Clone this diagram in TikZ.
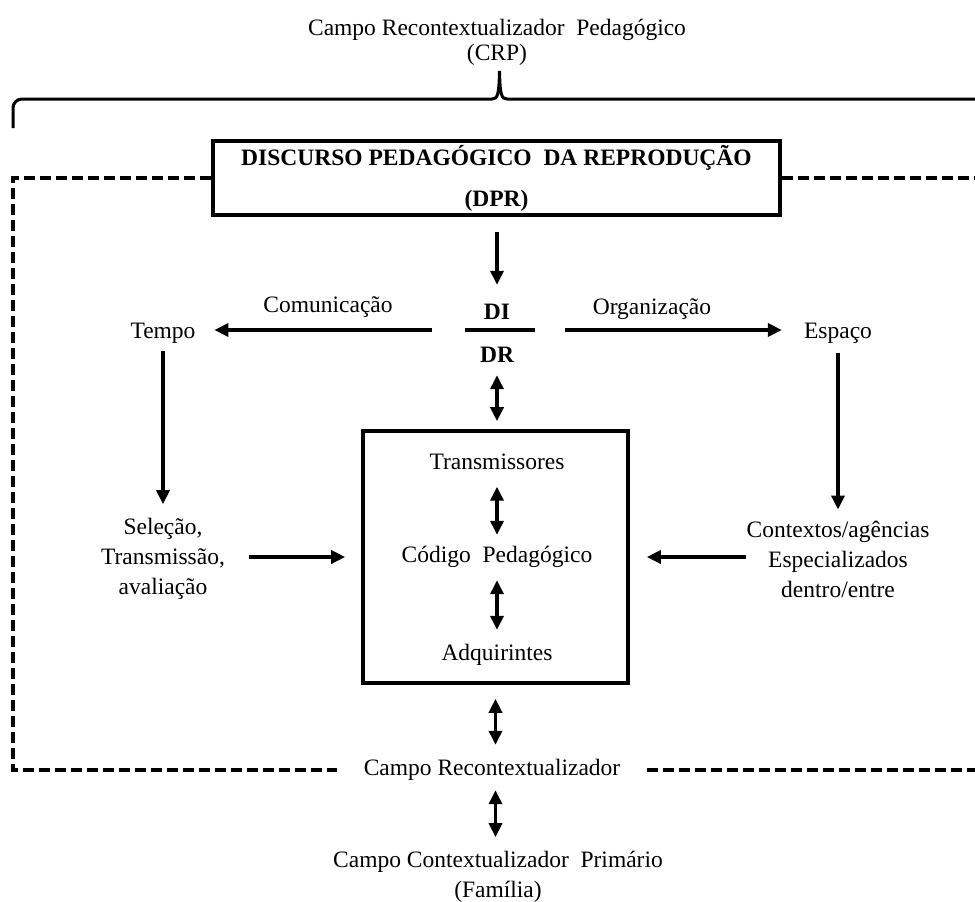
\documentclass[tikz,border=0pt]{standalone}
\usepackage{fontspec}
\setmainfont{Liberation Serif}
\usetikzlibrary{arrows.meta,calc}
\begin{document}
\begin{tikzpicture}[x=1pt,y=-1pt,
  txt/.style={inner sep=0pt, text height=16pt, text depth=5pt, font=\fontsize{23.5}{28}\selectfont},
  mtxt/.style={inner sep=0pt, align=center, font=\fontsize{23.5}{30}\selectfont},
  arr/.style={line width=3.4pt, -{Triangle[length=14pt,width=13pt]}},
  darr/.style={line width=3.4pt, {Triangle[length=14pt,width=13pt]}-{Triangle[length=14pt,width=13pt]}},
  frame/.style={draw, line width=3.6pt, inner sep=0pt},
  dash3/.style={line width=3.4pt, dash pattern=on 11pt off 5pt}]
\useasboundingbox (0,0) rectangle (975,902);
\coordinate (lft) at (13,0);
\coordinate (rgt) at (975,0);

% title and brace
\node[mtxt, font=\fontsize{23.5}{25}\selectfont] (crp) at (497,42.5) {Campo Recontextualizador\ \ Pedagógico\\(CRP)};
\draw[line width=3pt] [rounded corners=9pt] (13,128) -- (13,99) -- (200,99) [sharp corners] -- (492,99)
  .. controls (497.5,99) and (499,95) .. (499.5,71)
  .. controls (500,95) and (501.5,99) .. (507,99) -- (975,99);

% DPR box
\node[frame, minimum width=567pt, minimum height=74pt, align=center,
      font=\bfseries\fontsize{23.5}{41}\selectfont] (dpr) at (496.5,178)
      {DISCURSO PEDAGÓGICO\ \ DA REPRODUÇÃO\\(DPR)};

% DI / DR
\node[txt, font=\bfseries\fontsize{23.5}{28}\selectfont] (di) at (497,314) {DI};
\node[txt, font=\bfseries\fontsize{23.5}{28}\selectfont] (dr) at (497,357) {DR};
\draw[line width=3.4pt] (465,330) -- (535,330);
\coordinate (cl) at (432,330);
\coordinate (cr) at (565,330);

% side nodes
\node[txt] (tempo) at (163,333) {Tempo};
\node[txt] (espaco) at (838,333) {Espaço};
\node[txt] (comun) at (328,307) {Comunicação};
\node[txt] (organ) at (652,309) {Organização};
\node[mtxt] (sel) at (163,559) {Seleção,\\Transmissão,\\avaliação};
\node[mtxt] (ctx) at (838,559) {Contextos/agências\\Especializados\\dentro/entre};

% central box
\node[frame, minimum width=265pt, minimum height=252pt] (cbox) at (495.5,557) {};
\node[txt] (trans) at (497,464) {Transmissores};
\node[txt] (cod) at (497,557) {Código\ \ Pedagógico};
\node[txt] (adq) at (497,655) {Adquirintes};

% bottom
\node[txt, inner xsep=27pt] (crec) at (492,770) {Campo Recontextualizador};
\node[mtxt] (ccp) at (498,877) {Campo Contextualizador\ \ Primário\\(Família)};

% dashed frame
\draw[dash3] (dpr.west) -- (dpr.west -| lft) -- (crec.west -| lft) -- (crec.west);
\draw[dash3] (dpr.east) -- (dpr.east -| rgt);
\draw[dash3] (crec.east) -- (crec.east -| rgt);

% connectors
\draw[arr, shorten <=15pt, shorten >=18.5pt] (dpr.south -| di) -- (di);
\draw[arr, shorten >=18.7pt] (cl) -- (cl -| tempo.east);
\draw[arr, shorten >=22pt] (cr) -- (cr -| espaco.west);
\draw[arr, shorten <=7pt, shorten >=14pt] (tempo) -- (sel);
\draw[arr, shorten <=9pt, shorten >=11pt] (espaco) -- (ctx);
\draw[darr, shorten <=7.5pt, shorten >=8pt] (dr) -- (dr |- cbox.north);
\draw[darr, shorten <=12pt, shorten >=11.5pt] (trans) -- (cod);
\draw[darr, shorten <=12.5pt, shorten >=14.5pt] (cod) -- (adq);
\draw[arr, shorten <=24pt, shorten >=16pt] (sel.east |- cbox) -- (cbox.west);
\draw[arr, shorten >=17pt] (ctx.west |- cbox) -- (cbox.east);
\draw[darr, shorten <=14pt, shorten >=14.5pt] (cbox.south) -- (cbox.south |- crec.north);
\draw[darr, shorten <=9.5pt, shorten >=14pt] (crec.south -| cbox.south) -- (ccp.north -| cbox.south);
\end{tikzpicture}
\end{document}
